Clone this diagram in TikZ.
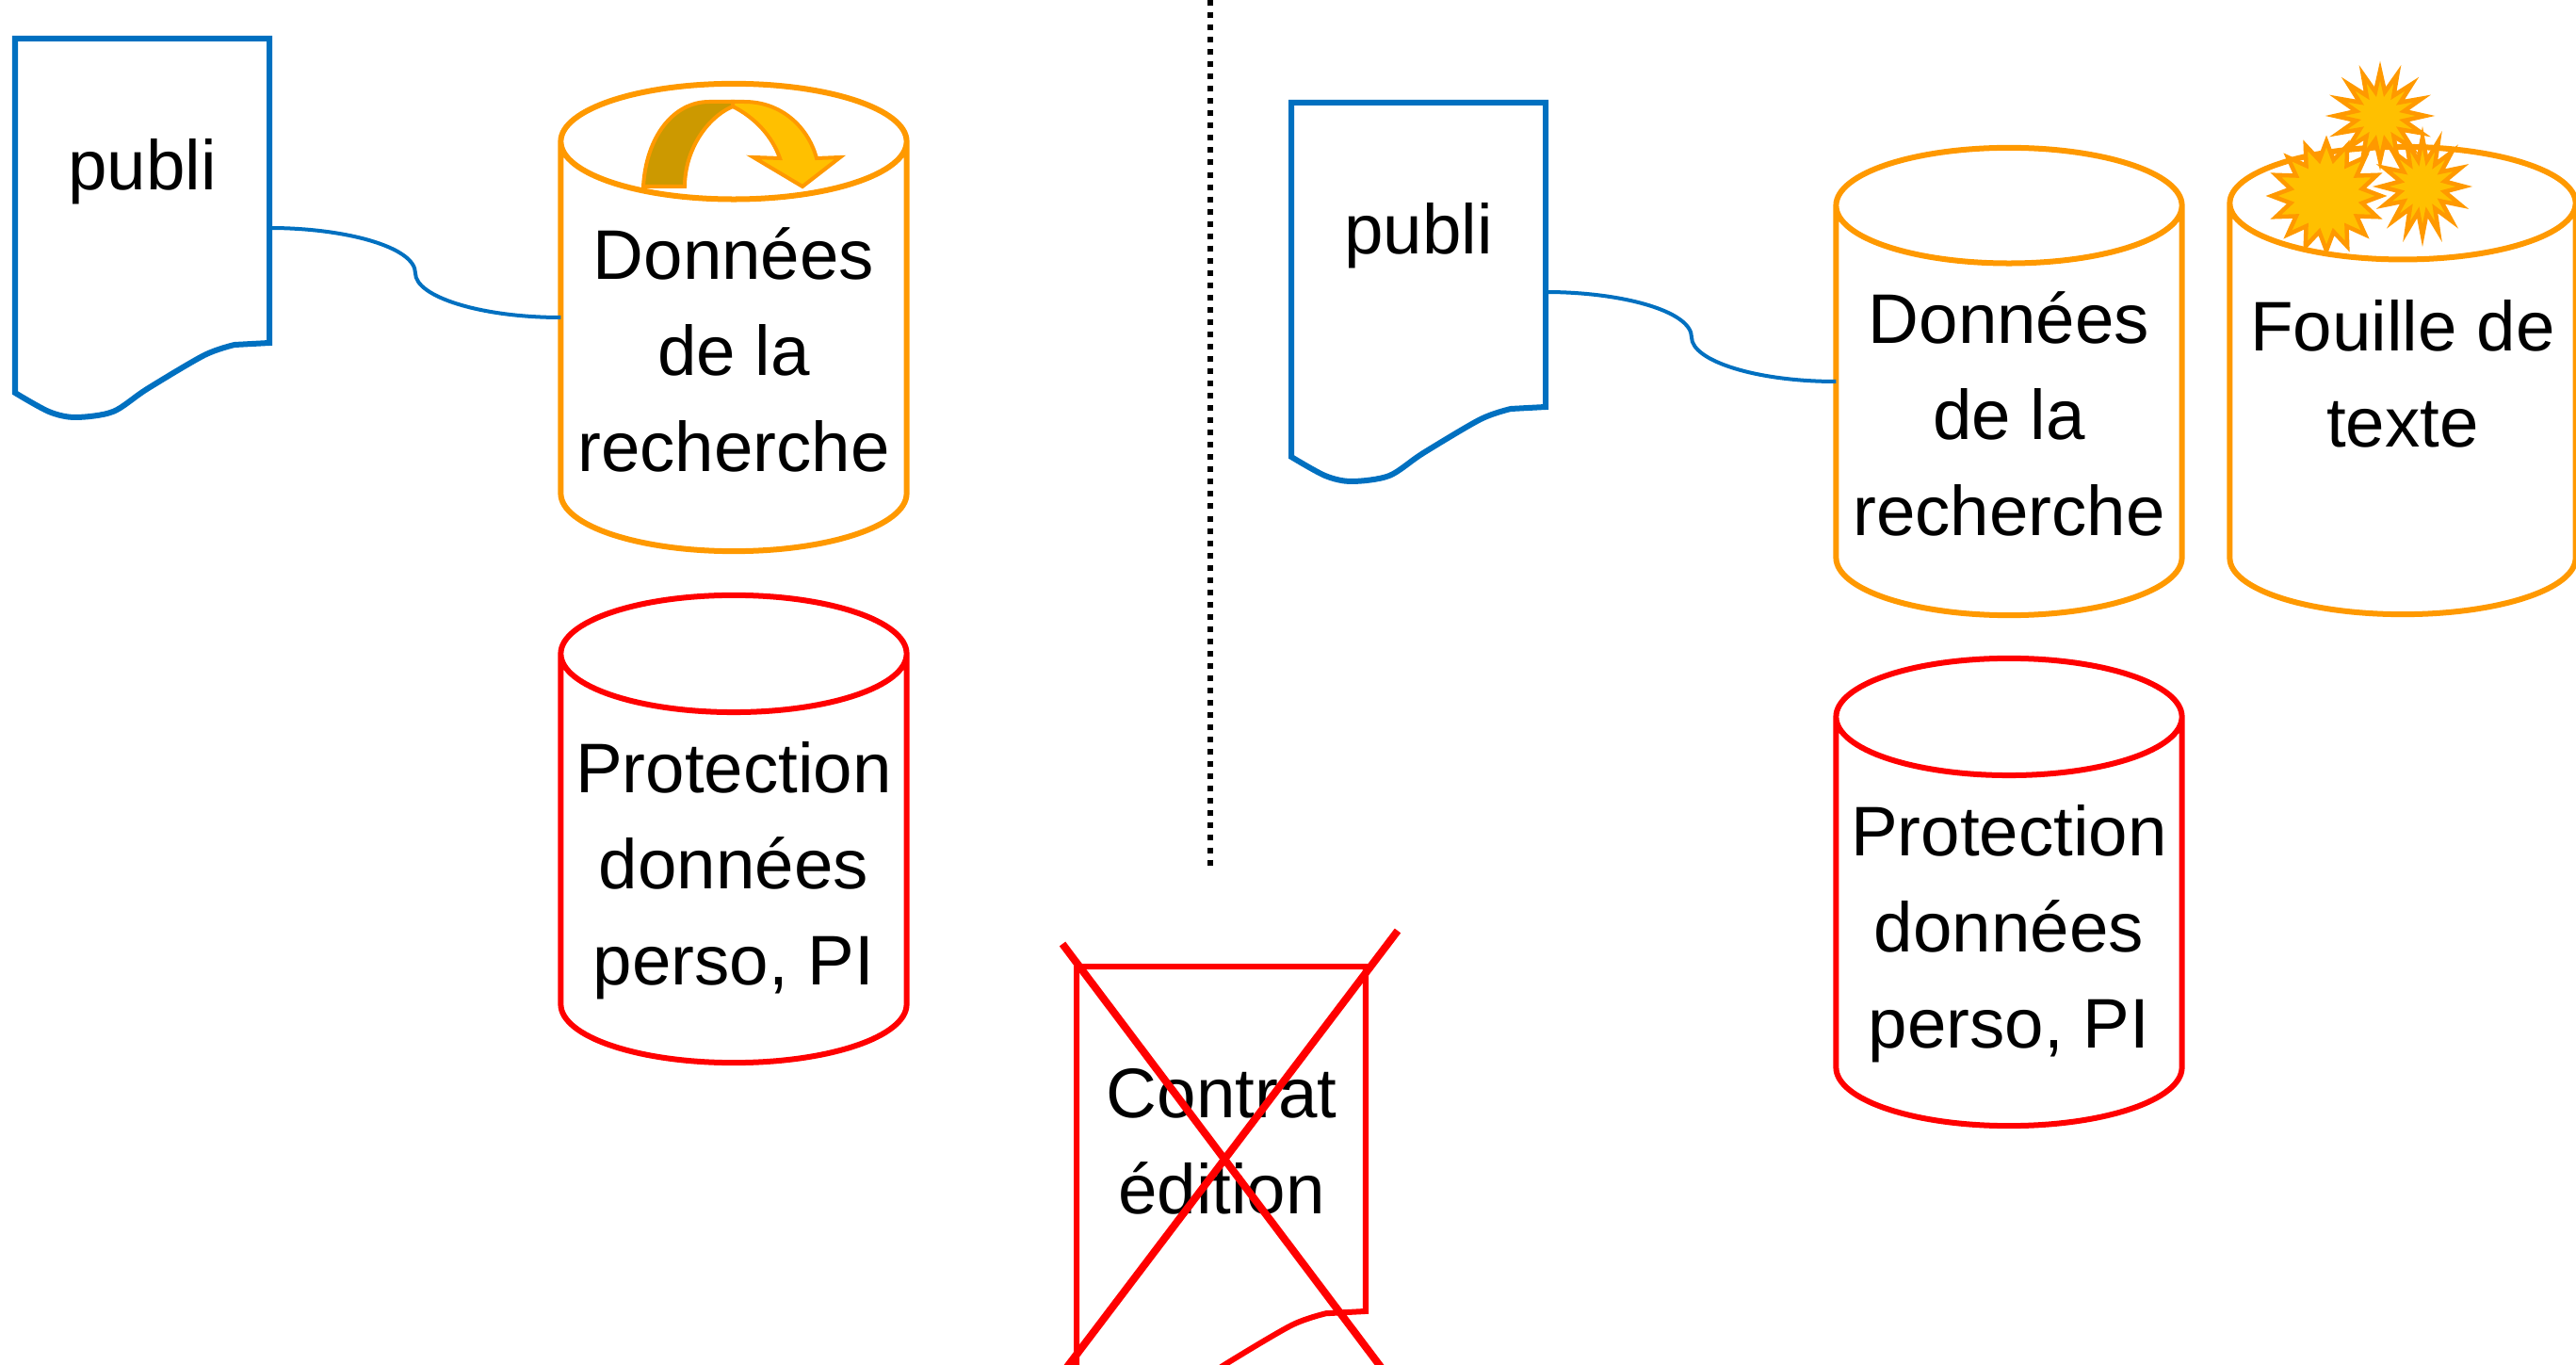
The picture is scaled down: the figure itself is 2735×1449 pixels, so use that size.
\documentclass[tikz,border=0pt]{standalone}
\usepackage{fontspec}
\setmainfont{Liberation Sans}
\usetikzlibrary{shapes.geometric}
\definecolor{docblue}{HTML}{0070C0}
\definecolor{dataorange}{HTML}{FF9900}
\definecolor{burstgold}{HTML}{FFC000}
\definecolor{darkgold}{HTML}{CC9900}
\tikzset{
  bigtext/.style={font=\fontsize{21.2}{29}\selectfont, align=center, inner sep=0pt, outer sep=0pt},
  base/.style={cylinder, shape border rotate=90, draw, aspect=0.37, minimum width=3.67cm, minimum height=4.96cm,
    line width=0.06cm, bigtext, anchor=shape center},
  burst/.style={star, star points=16, star point ratio=1.85, draw=dataorange, fill=burstgold, line width=0.045cm, inner sep=0pt, miter limit=20},
  link/.style={docblue, line width=0.04cm},
  cross/.style={red, line width=0.08cm},
  publi/.pic={
    \draw[line width=0.06cm] (0,0) -- (270,0) -- (270,323) -- plot[smooth] coordinates {(233,325) (201,336) (140,372) (104,396) (64,402) (36,396) (0,376)} -- cycle;
    \coordinate (-east) at (270,201);
  }
}

\begin{document}
\begin{tikzpicture}[x=0.01cm, y=-0.01cm]
  \clip (0,0) rectangle (2735,1449);
  \pic[color=docblue] (pubA) at (16,41) {publi};
  \pic[color=docblue] (pubB) at (1371,109) {publi};
  \pic[color=red, xscale=1.137, yscale=1.133] (contrat) at (1143,1026) {publi};
  \node (pubAtext) [bigtext, anchor=base] at (151,202) {publi};
  \node (pubBtext) [bigtext, anchor=base] at (1506,270) {publi};
  \node (contrattext) [bigtext, anchor=base] at (1297,1288) {Contrat\\édition};

  \node (dataA) [base, draw=dataorange] at (779,337) {\rule{0pt}{17pt}Données\\de la\\recherche};
  \node (protA) [base, draw=red] at (779,880) {\rule{0pt}{22pt}Protection\\données\\perso, PI};
  \node (dataB) [base, draw=dataorange] at (2133,405) {\rule{0pt}{17pt}Données\\de la\\recherche};
  \node (protB) [base, draw=red] at (2133,947) {\rule{0pt}{22pt}Protection\\données\\perso, PI};
  \node (fouille) [base, draw=dataorange] at (2551,404) {Fouille de\\texte\\[-7pt]\mbox{}};

  \coordinate (midA) at (441,290);
  \coordinate (midB) at (1796,358);
  \draw[link] (pubA-east) .. controls +(80,0) and +(0,-28) .. (midA) .. controls +(0,25) and +(-85,0) .. (dataA.west |- dataA.shape center);
  \draw[link] (pubB-east) .. controls +(80,0) and +(0,-28) .. (midB) .. controls +(0,25) and +(-85,0) .. (dataB.west |- dataB.shape center);

  \coordinate (sepTop) at (1285,0);
  \coordinate (sepEnd) at (1285,921);
  \draw[black, line width=0.06cm, dotted] (sepTop) -- (sepEnd);

  \coordinate (crossA) at (1128,1002);
  \coordinate (crossB) at (1472,1459);
  \coordinate (crossC) at (1484,988);
  \coordinate (crossD) at (1127,1459);
  \draw[cross] (crossA) -- (crossB);
  \draw[cross] (crossC) -- (crossD);

  \draw[draw=dataorange, fill=darkgold, line width=0.04cm] (683,198) .. controls (686,145) and (715,108) .. (753,108) -- (778,108) -- (778,113) .. controls (750,125) and (727,160) .. (727,198) -- cycle;
  \draw[draw=dataorange, fill=burstgold, line width=0.04cm] (778,108) -- (790,108) .. controls (830,108) and (858,135) .. (867,168) -- (892,167) -- (852,198) -- (800,167) -- (828,168) .. controls (820,145) and (802,125) .. (778,113) -- cycle;

  \node (burstA) [burst, minimum size=0.96cm] at (2527,123) {};
  \node (burstB) [burst, star point ratio=1.5, minimum size=1.16cm] at (2470,208) {};
  \node (burstC) [burst, minimum size=1.04cm, xscale=0.85, transform shape] at (2572,198) {};
\end{tikzpicture}
\end{document}
